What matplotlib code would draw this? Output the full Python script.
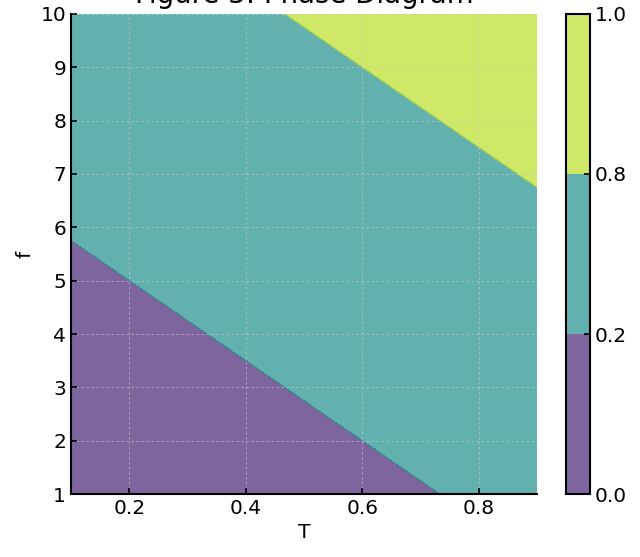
import numpy as np
import matplotlib
matplotlib.use('Agg')
import matplotlib.pyplot as plt

# phase boundaries: (T, f) end points
lower_boundary = [(0.1, 5.75), (0.733, 1.0)]   # purple / teal
upper_boundary = [(0.467, 10.0), (0.9, 6.75)]  # teal / yellow
levels = [0.0, 0.2, 0.8, 1.0]
T_range = [0.1, 0.9]
f_range = [1, 10]
xticks = [0.2, 0.4, 0.6, 0.8]
yticks = [1, 2, 3, 4, 5, 6, 7, 8, 9, 10]

#%% grid and a phase field that hits 0.2 / 0.8 on the two boundaries
T = np.linspace(T_range[0], T_range[1], 400)
f = np.linspace(f_range[0], f_range[1], 400)
TT, FF = np.meshgrid(T, f)

def line_value(pts, t, y):
    (x0, y0), (x1, y1) = pts
    slope = (y1 - y0) / (x1 - x0)
    return y - (y0 + slope * (t - x0))

d_lo = line_value(lower_boundary, TT, FF)
d_hi = line_value(upper_boundary, TT, FF)
gap = d_lo - d_hi  # constant when lines are parallel
phase = 0.2 + 0.6 * d_lo / np.where(gap == 0, 1, gap)
phase = np.clip(phase, 0, 1)

#%% plot
fig = plt.figure(figsize=(6.4, 5.57), dpi=100)
ax = fig.add_axes([0.111, 0.113, 0.728, 0.862])
cax = fig.add_axes([0.884, 0.113, 0.038, 0.862])

cs = ax.contourf(TT, FF, phase, levels=levels, cmap='viridis', alpha=0.7)
ax.set_xlim(T_range)
ax.set_ylim(f_range)
ax.set_xticks(xticks)
ax.set_yticks(yticks)
ax.grid(True, linestyle=(0, (3, 3)), color='#cccccc', linewidth=0.6, alpha=0.7)
for s in ['top', 'right']:
    ax.spines[s].set_visible(False)
for s in ['left', 'bottom']:
    ax.spines[s].set_linewidth(1.5)
ax.tick_params(direction='in', length=4, width=1.2, labelsize=14.5)
ax.set_xlabel('T', fontsize=14.5)
ax.set_ylabel('f', fontsize=14.5)
ax.set_title('Figure 3: Phase Diagram', fontsize=19.8, pad=8)

cb = fig.colorbar(cs, cax=cax)
cb.set_ticks(levels)
cb.outline.set_linewidth(1.5)
cb.ax.tick_params(direction='in', length=4, width=1.2, labelsize=14.5)

fig.savefig('out.png', dpi=100)
